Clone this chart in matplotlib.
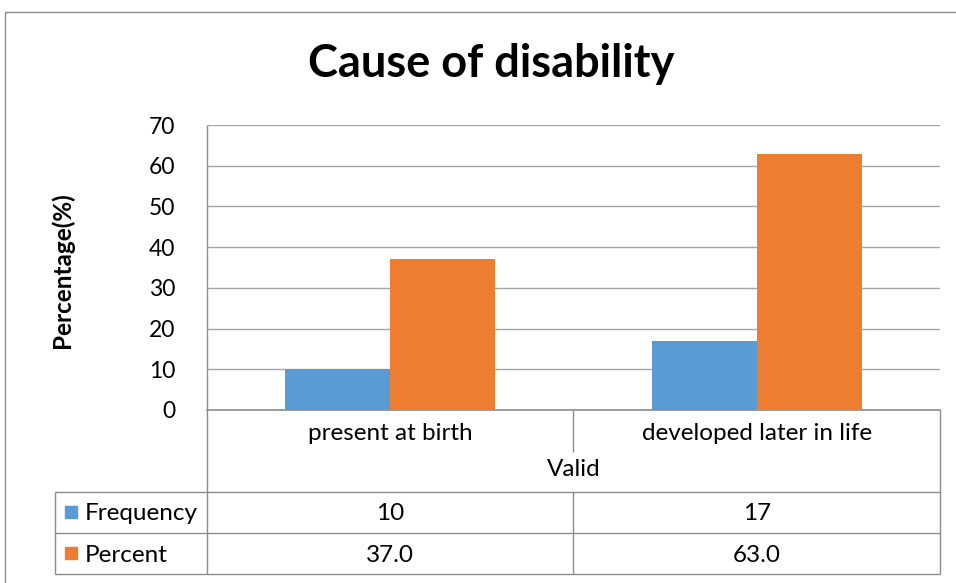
import matplotlib
matplotlib.use("Agg")
import matplotlib.pyplot as plt
from matplotlib.patches import Rectangle

plt.rcParams['font.family'] = ['Lato', 'DejaVu Sans']

# Data
categories = ["present at birth", "developed later in life"]
group_label = "Valid"
series_names = ["Frequency", "Percent"]
frequency = [10, 17]
percent = [37.0, 63.0]
freq_text = ["10", "17"]
pct_text = ["37.0", "63.0"]
colors = ["#5B9BD5", "#ED7D31"]
title = "Cause of disability"
ylabel = "Percentage(%)"

W, H = 956, 583
fig = plt.figure(figsize=(W / 100, H / 100), dpi=100)

# Pixel-space overlay for frame and data table
ov = fig.add_axes([0, 0, 1, 1])
ov.set_xlim(0, W)
ov.set_ylim(H, 0)
ov.axis("off")

# Plot area in pixels
L, R, T, B = 207, 940, 125, 410
ax = fig.add_axes([L / W, 1 - B / H, (R - L) / W, (B - T) / H])

x = list(range(len(categories)))
bw = 0.2865
ax.bar([i - bw / 2 for i in x], frequency, width=bw, color=colors[0], zorder=3)
ax.bar([i + bw / 2 for i in x], percent, width=bw, color=colors[1], zorder=3)
ax.set_xlim(-0.5, len(categories) - 0.5)
ax.set_ylim(0, 70)
ax.set_yticks(range(0, 71, 10))
ax.set_xticks([])
ax.tick_params(axis="y", length=0, labelsize=16.5, pad=23, colors="#000000")
for s in ["top", "right", "left"]:
    ax.spines[s].set_visible(False)
ax.spines["bottom"].set_color("#8C8C8C")
ax.spines["bottom"].set_linewidth(1.2)
ax.grid(axis="y", color="#A6A6A6", linewidth=1.0, zorder=0)
ax.set_axisbelow(True)
ax.patch.set_alpha(0)

lc = "#8C8C8C"
lw = 1.0

def hline(y, x0, x1):
    ov.plot([x0, x1], [y, y], color=lc, lw=lw, solid_capstyle="butt")

def vline(xx, y0, y1):
    ov.plot([xx, xx], [y0, y1], color=lc, lw=lw, solid_capstyle="butt")

# Chart outer frame
hline(12, 5, W)
vline(5, 12, H)

# Axis line and table grid
vline(L, T, 574)
vline(R, B, 574)
mid = (L + R) / 2
vline(mid, B, 452)
vline(mid, 492, 574)
hline(492, 55, R)
hline(533, 55, R)
hline(574, 55, R)
vline(55, 492, 574)

fs = 17.5
# Category labels
for i, c in enumerate(categories):
    cx = L + (i + 0.5) * (R - L) / len(categories)
    ov.text(cx, 433, c, ha="center", va="center", fontsize=fs)
ov.text(mid, 470, group_label, ha="center", va="center", fontsize=fs)

# Table rows
rows = [(freq_text, 514), (pct_text, 555)]
for k, (vals, yy) in enumerate(rows):
    ov.add_patch(Rectangle((65, yy - 8), 12, 12, color=colors[k]))
    ov.text(85, yy, series_names[k], ha="left", va="center", fontsize=fs)
    for i, v in enumerate(vals):
        cx = L + (i + 0.5) * (R - L) / len(vals)
        ov.text(cx, yy, v, ha="center", va="center", fontsize=fs)

# Titles
ov.text(491, 64, title, ha="center", va="center", fontsize=32.5, fontweight="bold")
ov.text(62, 270, ylabel, ha="center", va="center", fontsize=17.5,
        fontweight="bold", rotation=90)

fig.savefig("out.png", dpi=100)
